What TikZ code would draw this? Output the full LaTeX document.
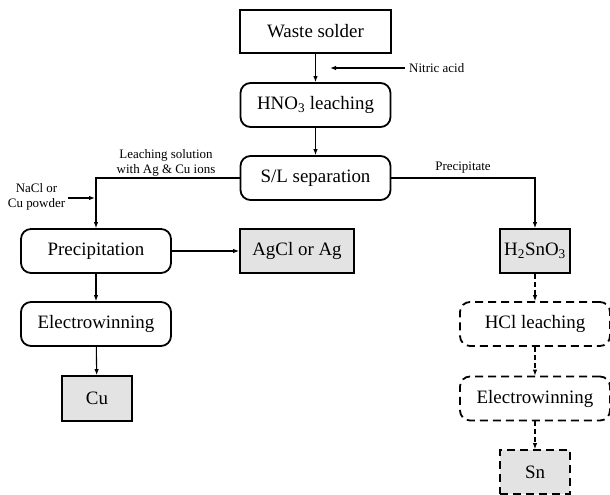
\documentclass[tikz,border=0pt]{standalone}
\usepackage{fontspec}
\setmainfont{Liberation Serif}
\usetikzlibrary{arrows.meta}
\begin{document}
\begin{tikzpicture}[x=1bp,y=-1bp,
    boxfont/.style={font=\fontsize{19}{22}\selectfont},
    stage/.style={draw,line width=1.8bp,rounded corners=10bp,minimum width=150bp,minimum height=44bp,boxfont},
    feed/.style={draw,line width=1.8bp,minimum width=151bp,minimum height=43bp,boxfont},
    product/.style={draw,line width=1.8bp,fill=gray!22,minimum height=44bp,boxfont},
    note/.style={font=\fontsize{13}{15}\selectfont,align=center,inner sep=1bp},
    flow/.style={-{Latex[length=6bp,width=4.5bp]},line width=1.1bp},
    tentative/.style={dash pattern=on 8bp off 5bp}]
  \useasboundingbox (0,0) rectangle (610,495);
  \draw
    (315.5,31.5) node[feed] (waste){Waste solder}
    (315.5,105) node[stage] (hno3){HNO\textsubscript{3} leaching}
    (315.5,178) node[stage] (sl){S/L separation}
    (96,251) node[stage] (precip){Precipitation}
    (297,251) node[product,minimum width=114bp] (agcl){AgCl or Ag}
    (96,324) node[stage] (elecL){Electrowinning}
    (97,398.5) node[product,minimum width=70bp,minimum height=45bp] (cu){Cu}
    (535,251) node[product,minimum width=70bp,inner sep=1bp] (h2sno3){H\textsubscript{2}SnO\textsubscript{3}}
    (535,324) node[stage,tentative] (hcl){HCl leaching}
    (535,398.5) node[stage,tentative] (elecR){Electrowinning}
    (535,472) node[product,tentative,minimum width=70bp] (sn){Sn};
  \draw
    (405,68) node[note,anchor=west,inner sep=4bp] (nitric){Nitric acid}
    (36.5,197) node[note] (nacl){NaCl or\\Cu powder}
    (166,162.5) node[note] (liquor){Leaching solution\\with Ag \& Cu ions}
    (463,168) node[note] (solid){Precipitate};
  \coordinate (acidin) at (330,68);
  \coordinate (saltin) at (95,198);
  \begin{scope}[flow]
    \draw (waste) to (hno3);
    \draw (nitric.west) to (acidin);
    \draw (hno3) to (sl);
    \draw (sl.west) -| (precip.north);
    \draw (nacl.east) ++(2,1) to (saltin);
    \draw (sl.east) -| (h2sno3.north);
    \draw (precip) to (agcl);
    \draw (precip) to (elecL);
    \draw (elecL) to (cu);
  \end{scope}
  \begin{scope}[flow,dash pattern=on 5bp off 3bp]
    \draw (h2sno3) to (hcl);
    \draw (hcl) to (elecR);
    \draw (elecR) to (sn);
  \end{scope}
\end{tikzpicture}
\end{document}
